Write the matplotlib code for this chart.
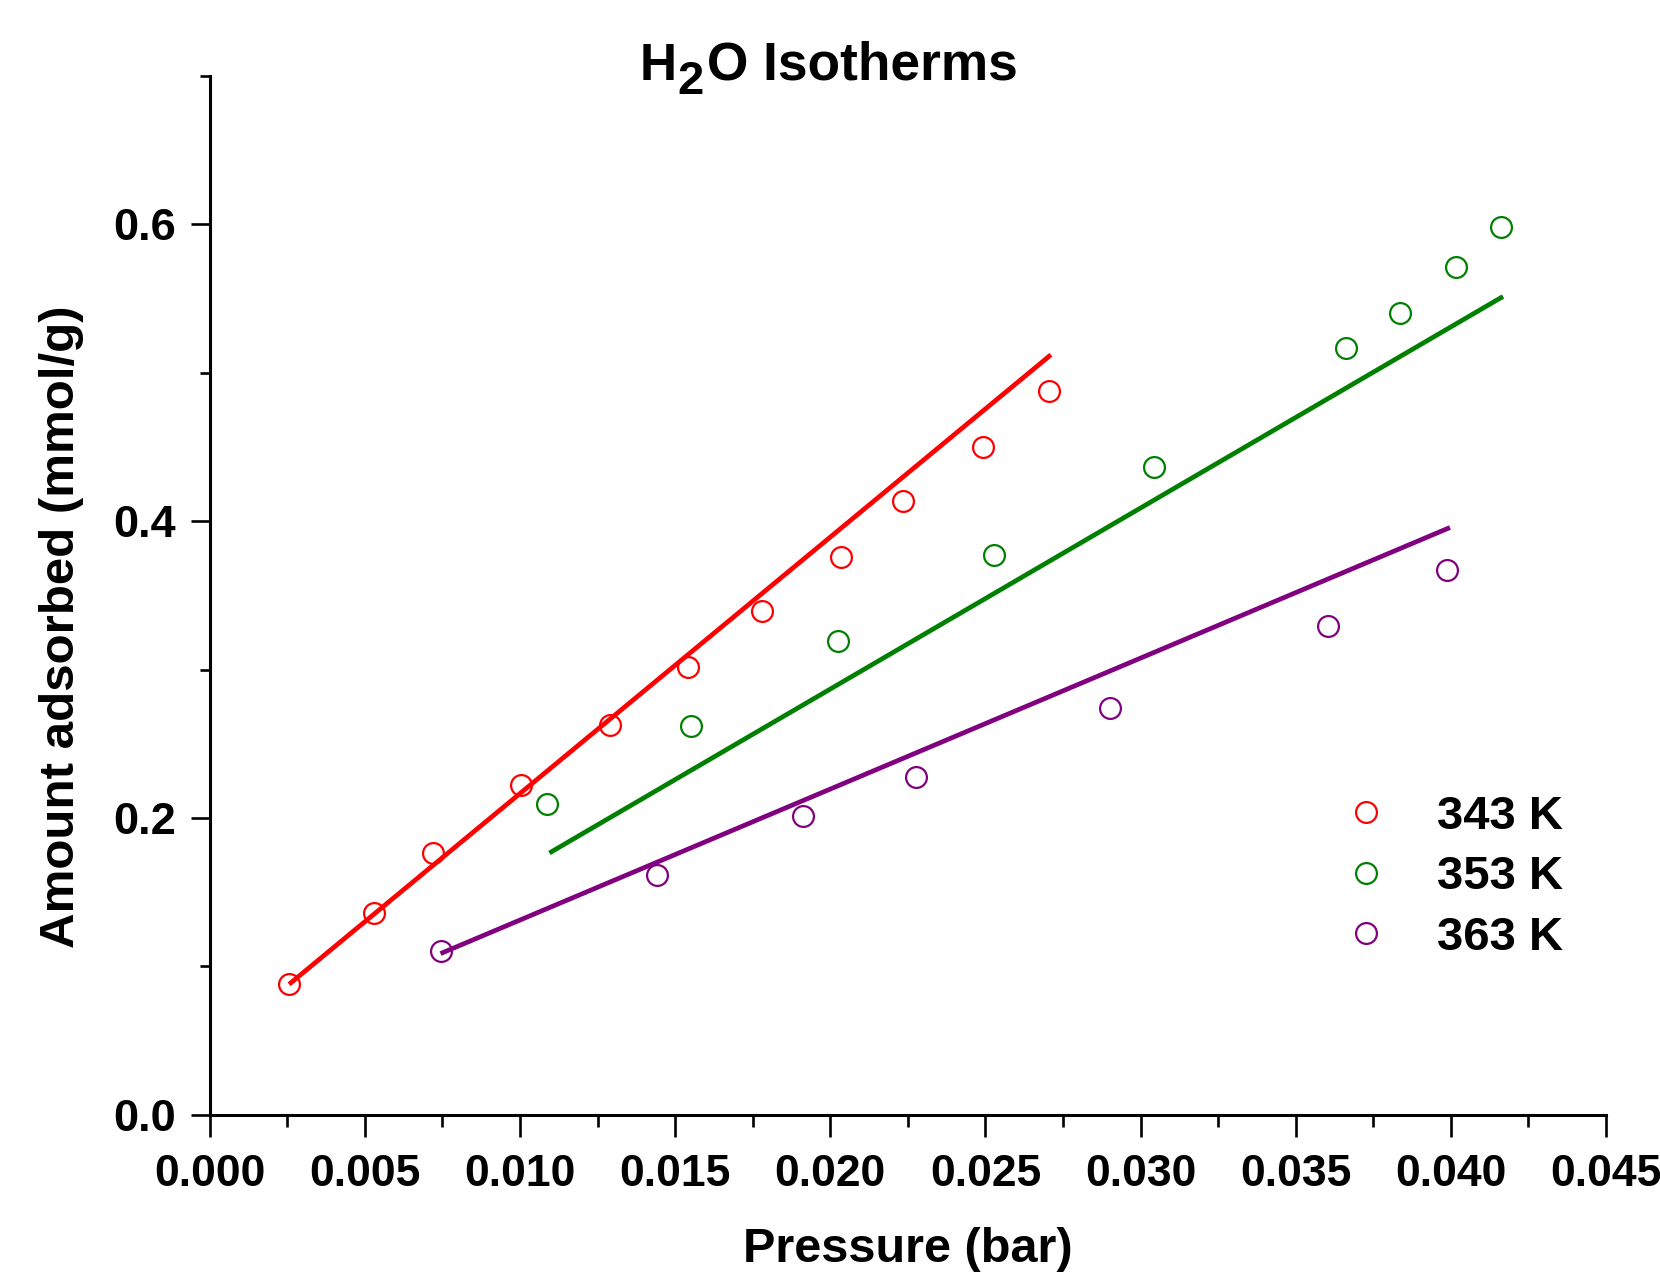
import matplotlib
matplotlib.use('agg')
import matplotlib.pyplot as plt
from matplotlib.ticker import MultipleLocator, FormatStrFormatter

plt.rcParams['font.family'] = ['Liberation Sans', 'DejaVu Sans']
plt.rcParams['font.weight'] = 'bold'

## data
labels = ['343 K', '353 K', '363 K']
colors = ['#FF0000', '#008000', '#800080']

p343 = [0.00256, 0.00529, 0.00720, 0.01003, 0.01289, 0.01542, 0.01780, 0.02033, 0.02234, 0.02493, 0.02705]
q343 = [0.0879, 0.1357, 0.1764, 0.2221, 0.2629, 0.3014, 0.3393, 0.3757, 0.4136, 0.4500, 0.4879]
p353 = [0.01088, 0.01552, 0.02026, 0.02527, 0.03042, 0.03663, 0.03837, 0.04018, 0.04161]
q353 = [0.2093, 0.2621, 0.3193, 0.3771, 0.4364, 0.5164, 0.5400, 0.5714, 0.5979]
p363 = [0.00744, 0.01443, 0.01913, 0.02275, 0.02902, 0.03605, 0.03987]
q363 = [0.1100, 0.1614, 0.2014, 0.2279, 0.2743, 0.3293, 0.3671]

# fitted straight lines (end points)
fit343_p = [0.00256, 0.02711]
fit343_q = [0.0879, 0.5121]
fit353_p = [0.01095, 0.04168]
fit353_q = [0.1764, 0.5514]
fit363_p = [0.00744, 0.03997]
fit363_q = [0.1086, 0.3957]

pts = [(p343, q343), (p353, q353), (p363, q363)]
fits = [(fit343_p, fit343_q), (fit353_p, fit353_q), (fit363_p, fit363_q)]

W, H = 1660, 1285
fig = plt.figure(figsize=(W / 100, H / 100), dpi=100)
ax = fig.add_axes([0.1263, 0.1325, 0.9675 - 0.1263, 0.9409 - 0.1325])

handles = []
for (px, py), (fx, fy), c, lab in zip(pts, fits, colors, labels):
    ax.plot(fx, fy, color=c, lw=3.4, solid_capstyle='butt', zorder=2)
    h, = ax.plot(px, py, 'o', ms=15, mfc='none', mec=c, mew=1.6, label=lab, zorder=3)
    handles.append(h)

ax.set_xlim(0, 0.045)
ax.set_ylim(0, 0.7)
ax.xaxis.set_major_locator(MultipleLocator(0.005))
ax.xaxis.set_minor_locator(MultipleLocator(0.0025))
ax.yaxis.set_major_locator(MultipleLocator(0.2))
ax.yaxis.set_minor_locator(MultipleLocator(0.1))
ax.xaxis.set_major_formatter(FormatStrFormatter('%.3f'))
ax.yaxis.set_major_formatter(FormatStrFormatter('%.1f'))

for s in ['top', 'right']:
    ax.spines[s].set_visible(False)
for s in ['left', 'bottom']:
    ax.spines[s].set_linewidth(2.2)

ax.tick_params(axis='x', which='major', direction='out', length=16, width=1.9, pad=12, labelsize=32)
ax.tick_params(axis='x', which='minor', direction='out', length=8.5, width=1.9)
ax.tick_params(axis='y', which='major', direction='out', length=14, width=1.9, pad=10, labelsize=32.5)
ax.tick_params(axis='y', which='minor', direction='out', length=7.5, width=1.9)

ax.set_xlabel('Pressure (bar)', fontsize=35, fontweight='bold')
ax.set_ylabel('Amount adsorbed (mmol/g)', fontsize=35.5, fontweight='bold')
ax.xaxis.set_label_coords(0.5, -0.13)
ax.xaxis.label.set_va('center')
ax.yaxis.set_label_coords(-0.1064, 0.4696)
ax.yaxis.label.set_va('center')

# title: H, lowered 2, O Isotherms
base = 1 - 79.5 / H
fig.text(640 / W, base, 'H', fontsize=37, fontweight='bold', ha='left', va='baseline')
fig.text(677 / W, 1 - 94.5 / H, '2', fontsize=34, fontweight='bold', ha='left', va='baseline')
fig.text(707 / W, base, 'O Isotherms', fontsize=38.3, fontweight='bold', ha='left', va='baseline')

ax.legend(handles=handles, loc='center left', bbox_to_anchor=(0.7946, 0.3173),
          bbox_transform=fig.transFigure, frameon=False,
          borderpad=0, borderaxespad=0, handlelength=2, handletextpad=0.5,
          labelspacing=0.35, prop={'weight': 'bold', 'size': 34})

fig.savefig('out.png', dpi=100)
